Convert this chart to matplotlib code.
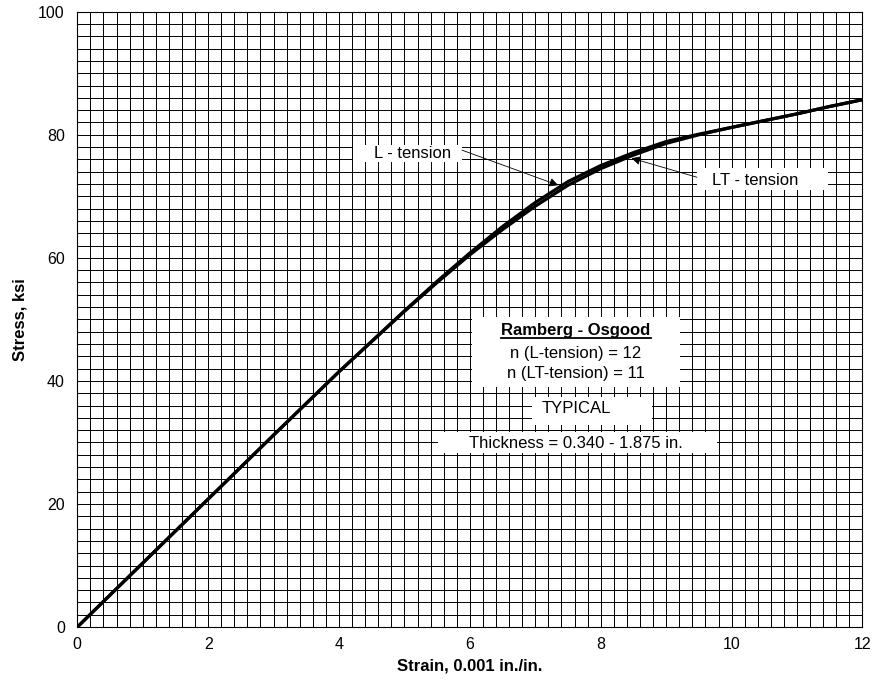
import numpy as np
import matplotlib.pyplot as plt
from matplotlib.patches import Rectangle

# ====================================
# DATA
# ====================================

strain_l = [0, 1, 2, 3, 4, 5, 5.5, 6, 6.5, 7, 7.5, 8, 8.5, 9, 9.5, 10, 10.5, 11, 11.5, 12]
stress_l = [0, 10.4, 20.8, 31.2, 41.5, 51.4, 56.2, 60.8, 65.1, 69.0, 72.4, 75.0, 77.1, 78.9, 80.1, 81.2, 82.3, 83.4, 84.6, 85.7]

strain_lt = [0, 1, 2, 3, 4, 5, 5.5, 6, 6.5, 7, 7.5, 8, 8.5, 9, 9.5, 10, 10.5, 11, 11.5, 12]
stress_lt = [0, 10.4, 20.8, 31.2, 41.5, 51.3, 56.0, 60.5, 64.6, 68.4, 71.8, 74.5, 76.7, 78.6, 80.0, 81.2, 82.3, 83.4, 84.6, 85.7]

x_ticks = [0, 2, 4, 6, 8, 10, 12]
y_ticks = [0, 20, 40, 60, 80, 100]

plt.rcParams["font.family"] = ["Liberation Sans", "DejaVu Sans"]

# ====================================
# FIGURE
# ====================================

fig = plt.figure(figsize=(8.75, 6.96), dpi=100)
ax = fig.add_axes([0.0883, 0.099, 0.8974, 0.8842])

ax.set_xlim(0, 12)
ax.set_ylim(0, 100)

# grid
for gx in np.arange(0, 12.01, 0.2):
    ax.axvline(gx, color="black", lw=0.7, zorder=1)
for gy in np.arange(0, 100.01, 2):
    ax.axhline(gy, color="black", lw=0.7, zorder=1)

ax.set_xticks(x_ticks)
ax.set_yticks(y_ticks)
ax.tick_params(axis="x", length=0, pad=7, labelsize=11.5)
ax.tick_params(axis="y", length=0, pad=9, labelsize=11.5)

for s in ax.spines.values():
    s.set_linewidth(0.8)

# curves
ax.plot(strain_l, stress_l, color="black", lw=2.3, zorder=3)
ax.plot(strain_lt, stress_lt, color="black", lw=2.3, zorder=3)

ax.set_xlabel("Strain, 0.001 in./in.", fontsize=12, fontweight="bold", labelpad=5)
ax.set_ylabel("Stress, ksi", fontsize=12, fontweight="bold", labelpad=8)

# ====================================
# ANNOTATIONS
# ====================================

FS = 12

def white_box(x0, x1, y0, y1):
    ax.add_patch(Rectangle((x0, y0), x1 - x0, y1 - y0, facecolor="white",
                           edgecolor="none", zorder=4))

arrow = dict(arrowstyle="-|>", color="black", lw=0.6,
             mutation_scale=13, shrinkA=0, shrinkB=0)

# L - tension
white_box(4.21, 5.88, 75.6, 78.35)
ax.text(5.12, 77.0, "L - tension", fontsize=FS, ha="center", va="center", zorder=5)
ax.annotate("", xy=(7.35, 71.8), xytext=(5.88, 77.5), arrowprops=arrow, zorder=5)

# LT - tension
white_box(9.47, 11.47, 71.0, 74.6)
ax.text(10.36, 72.6, "LT - tension", fontsize=FS, ha="center", va="center", zorder=5)
ax.annotate("", xy=(8.47, 76.2), xytext=(9.47, 73.1), arrowprops=arrow, zorder=5)

# Ramberg - Osgood block
white_box(6.03, 9.21, 39.05, 50.43)
t = ax.text(7.62, 48.2, "Ramberg - Osgood", fontsize=FS, fontweight="bold",
            ha="center", va="center", zorder=5)
ax.text(7.62, 44.5, "n (L-tension) = 12", fontsize=FS,
        ha="center", va="center", zorder=5)
ax.text(7.62, 41.2, "n (LT-tension) = 11", fontsize=FS,
        ha="center", va="center", zorder=5)

white_box(6.95, 8.78, 32.83, 37.43)
ax.text(7.62, 35.5, "TYPICAL", fontsize=FS, ha="center", va="center", zorder=5)

white_box(5.51, 9.78, 28.3, 31.74)
ax.text(7.62, 29.9, "Thickness = 0.340 - 1.875 in.", fontsize=FS,
        ha="center", va="center", zorder=5)

# underline the bold title
fig.canvas.draw()
bb = t.get_window_extent().transformed(ax.transData.inverted())
ax.plot([bb.x0, bb.x1], [bb.y0 - 0.05, bb.y0 - 0.05], color="black", lw=1.3, zorder=6)

fig.savefig("out.png", dpi=100)
